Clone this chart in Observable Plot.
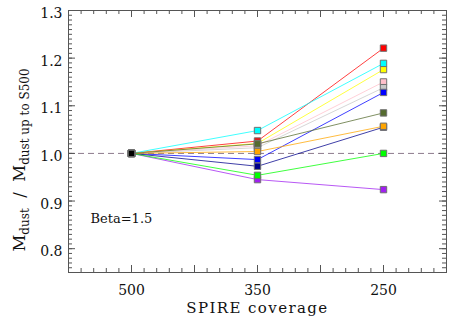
<!DOCTYPE html>
<html><head><meta charset="utf-8">
<script src="https://cdn.jsdelivr.net/npm/d3@7"></script>
<script src="https://cdn.jsdelivr.net/npm/@observablehq/plot@0.6"></script>
<style>body{margin:0;background:#fff} svg{display:block} svg text{font-family:"DejaVu Serif" !important}</style>
</head><body><div id="chart"></div>
<script>
// categories (x positions by index)
const coverage = ["500", "350", "250"];
// series, in drawing order
const seriesNames  = ["red", "yellow", "pink", "silver", "blue", "cyan", "olive", "navy", "orange", "purple", "green"];
const seriesColors = ["#ff0000", "#ffff00", "#ffc0cb", "#c8c8c8", "#0000ff", "#00ffff", "#556b2f", "#00008b", "#ffa500", "#a020f0", "#00ff00"];
const redVals    = [1.000, 1.026, 1.221];
const yellowVals = [1.000, 1.021, 1.176];
const pinkVals   = [1.000, 1.016, 1.150];
const silverVals = [1.000, 1.012, 1.138];
const blueVals   = [1.000, 0.987, 1.128];
const cyanVals   = [1.000, 1.048, 1.189];
const oliveVals  = [1.000, 1.020, 1.085];
const navyVals   = [1.000, 0.973, 1.055];
const orangeVals = [1.000, 1.004, 1.057];
const purpleVals = [1.000, 0.945, 0.924];
const greenVals  = [1.000, 0.954, 1.000];
const blackVals  = [1.000];            // reference point at 500
const yTickLabels = [0.8, 0.9, 1.0, 1.1, 1.2, 1.3];

const allVals = [redVals, yellowVals, pinkVals, silverVals, blueVals, cyanVals, oliveVals, navyVals, orangeVals, purpleVals, greenVals];
const rows = [];
allVals.forEach((vals, s) => vals.forEach((v, i) => rows.push({series: seriesNames[s], color: seriesColors[s], x: i, cov: coverage[i], value: v})));
const blackRows = blackVals.map((v, i) => ({series: "black", color: "#000000", x: i, value: v}));

const W = 463, H = 326, mL = 68, mR = 17, mT = 10, mB = 54;
const fH = H - mT - mB, fW = W - mL - mR;
const xMajor = d3.range(-0.5, 2.5001, 0.5);
const xMinor = d3.range(-0.5, 2.5001, 0.1);
const yMajor = d3.range(0.8, 1.3001, 0.1);
const yMinor = d3.range(0.75, 1.3001, 0.01);
const tickColor = "#555";
const FONT = "DejaVu Serif";

const chart = Plot.plot({
  width: W, height: H,
  marginLeft: mL, marginRight: mR, marginTop: mT, marginBottom: mB,
  x: {domain: [-0.5, 2.5]},
  y: {domain: [0.75, 1.3]},
  color: {type: "identity"},
  style: {fontFamily: FONT, fontSize: "14px", color: "#111", background: "#fff"},
  marks: [
    Plot.ruleY([1.0], {stroke: "#8c7b8c", strokeDasharray: "6,4"}),
    Plot.line(rows, {x: "x", y: "value", z: "series", stroke: "color", strokeWidth: 1, strokeOpacity: 0.75}),
    Plot.dot(rows, {x: "x", y: "value", fill: "color", stroke: "#707070", strokeWidth: 1, symbol: "square", r: 3.6}),
    Plot.dot(blackRows, {x: "x", y: "value", fill: "color", stroke: "#707070", strokeWidth: 1, symbol: "square", r: 3.6}),
    // inward ticks on all four sides
    Plot.ruleX(xMajor, {x: d => d, insetTop: fH - 7, stroke: tickColor}),
    Plot.ruleX(xMajor, {x: d => d, insetBottom: fH - 7, stroke: tickColor}),
    Plot.ruleX(xMinor, {x: d => d, insetTop: fH - 4, stroke: tickColor}),
    Plot.ruleX(xMinor, {x: d => d, insetBottom: fH - 4, stroke: tickColor}),
    Plot.ruleY(yMajor, {y: d => d, insetRight: fW - 7, stroke: tickColor}),
    Plot.ruleY(yMajor, {y: d => d, insetLeft: fW - 7, stroke: tickColor}),
    Plot.ruleY(yMinor, {y: d => d, insetRight: fW - 4, stroke: tickColor}),
    Plot.ruleY(yMinor, {y: d => d, insetLeft: fW - 4, stroke: tickColor}),
    Plot.frame({stroke: tickColor}),
    Plot.axisY({ticks: yTickLabels, tickSize: 0, tickPadding: 6, tickFormat: d => d.toFixed(1), dy: 3, label: null, fontSize: 14, fontFamily: FONT}),
    Plot.axisX({ticks: [0, 1, 2], tickSize: 0, tickPadding: 13, tickFormat: i => coverage[i], label: null, fontSize: 14, fontFamily: FONT}),
    Plot.text(["SPIRE coverage"], {frameAnchor: "bottom", dy: 36, lineAnchor: "middle", fontSize: 15, fontFamily: FONT, text: d => d}),
    Plot.text(["Beta=1.5"], {frameAnchor: "bottom-left", dx: 22, dy: -54, textAnchor: "start", lineAnchor: "middle", fontSize: 13, fontFamily: FONT, text: d => d})
  ]
});
document.getElementById("chart").appendChild(chart);

const svg = d3.select(chart);
svg.selectAll("text, g").style("font-family", FONT);
svg.selectAll("text").filter(function() { return this.textContent === "SPIRE coverage"; }).attr("letter-spacing", 1.4);
// y-axis label with subscripts
const t = svg.append("text")
  .attr("transform", "translate(25,160) rotate(-90)")
  .attr("text-anchor", "middle")
  .attr("font-family", FONT)
  .attr("font-size", 16.5)
  .attr("fill", "#111");
t.append("tspan").text("M");
t.append("tspan").attr("font-size", 12).attr("dy", 4).text("dust");
t.append("tspan").attr("dy", -4).text("\u00a0\u00a0/\u00a0\u00a0M");
t.append("tspan").attr("font-size", 12).attr("dy", 4).text("dust up to S500");
</script>
</body></html>
